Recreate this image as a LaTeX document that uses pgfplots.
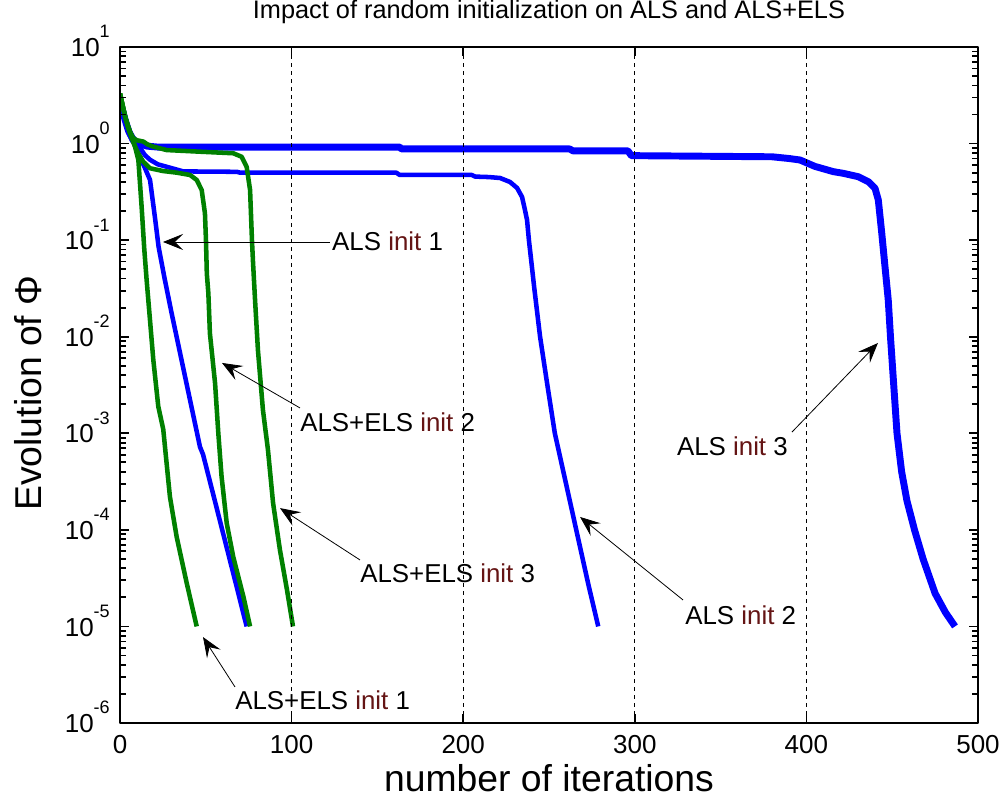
\documentclass[border=0pt]{standalone}
\usepackage{pgfplots}
\pgfplotsset{compat=1.18}
\usepackage{fontspec}
\setmainfont{Liberation Sans}
\usetikzlibrary{arrows.meta}
\definecolor{mblue}{RGB}{0,0,255}
\definecolor{mgreen}{RGB}{0,128,0}
\definecolor{initred}{RGB}{100,20,20}
\newcommand{\tenpow}[1]{10\raisebox{14pt}{\fontsize{13.5}{14}\selectfont #1}}
\newcommand{\annot}{\fontsize{19.4}{23}\selectfont}
\newcommand{\ini}{\textcolor{initred}{init}}
\begin{document}
\begin{tikzpicture}
\begin{axis}[
  scale only axis, width=643.5pt, height=507pt,
  xmin=0, xmax=500, ymin=1e-6, ymax=10, ymode=log, log basis y=10,
  xtick={0,100,200,300,400,500},
  ytick={1e-6,1e-5,1e-4,1e-3,1e-2,1e-1,1,10},
  yticklabels={\tenpow{-6},\tenpow{-5},\tenpow{-4},\tenpow{-3},\tenpow{-2},\tenpow{-1},\tenpow{0},\tenpow{1}},
  minor ytick={2e-6,3e-6,4e-6,5e-6,6e-6,7e-6,8e-6,9e-6,
               2e-5,3e-5,4e-5,5e-5,6e-5,7e-5,8e-5,9e-5,
               2e-4,3e-4,4e-4,5e-4,6e-4,7e-4,8e-4,9e-4,
               2e-3,3e-3,4e-3,5e-3,6e-3,7e-3,8e-3,9e-3,
               2e-2,3e-2,4e-2,5e-2,6e-2,7e-2,8e-2,9e-2,
               0.2,0.3,0.4,0.5,0.6,0.7,0.8,0.9,
               2,3,4,5,6,7,8,9},
  tick align=inside,
  major tick length=7pt, minor tick length=4.5pt,
  every tick/.style={black, line width=1.3pt},
  every minor tick/.style={black, line width=1.3pt},
  axis line style={black, line width=1.1pt},
  xmajorgrids, major x grid style={black, line width=0.9pt, dash pattern=on 3pt off 3pt},
  ticklabel style={font=\fontsize{19.5}{23}\selectfont},
  /pgf/number format/assume math mode=true,
  xticklabel style={anchor=north, inner sep=0pt, yshift=-9pt},
  yticklabel style={anchor=base east, inner sep=0pt, xshift=-7.5pt, yshift=-7.2pt},
  title={Impact of random initialization on ALS and ALS+ELS},
  title style={at={(0.5,1.0296)}, anchor=base, inner sep=0pt, font=\fontsize{19}{23}\selectfont},
  xlabel={number of iterations},
  xlabel style={at={(0.5,-0.1006)}, anchor=base, inner sep=0pt, font=\fontsize{28}{34}\selectfont},
  ylabel={Evolution of Φ},
  ylabel style={at={(-0.0913,0.488)}, rotate=0, anchor=base, inner sep=0pt, font=\fontsize{28}{34}\selectfont},
  line join=round,
  axis on top,
]
% ALS init 1
\addplot[mblue, line width=3.4pt] coordinates {
(0,2.7) (1.5,2.3) (3,1.85) (5,1.45) (7,1.15) (9,0.93) (11.7,0.72) (14.5,0.56) (17.5,0.42) (20.4,0.17) (22.5,0.085) (26,0.04) (30,0.0178) (38,0.0038) (46.6,7.24e-4) (48.4,6.03e-4) (55,2.09e-4) (62,6.76e-5) (68,2.57e-5) (73.8,1e-5)};
% ALS init 2
\addplot[mblue, line width=3.4pt] coordinates {
(0,2.7) (1.5,2.2) (3,1.7) (5,1.3) (7,1.07) (9,0.98) (11.7,0.90) (14.5,0.76) (17.5,0.68) (22,0.61) (27.2,0.575) (36.9,0.515) (68,0.51) (70,0.50) (161,0.50) (163,0.473) (205,0.473) (207,0.455) (215,0.45) (221.5,0.44) (227.3,0.40) (231.4,0.347) (234.3,0.28) (236,0.205) (237.2,0.162) (238.3,0.10) (241.5,0.031) (244.8,0.01) (249,0.0032) (253.4,0.001) (262,2.05e-4) (267.5,7.41e-5) (273,2.69e-5) (278.7,1e-5)};
% ALS init 3
\addplot[mblue, line width=5.2pt] coordinates {
(0,2.7) (1.5,2.2) (3,1.75) (5,1.35) (7,1.15) (9,1.05) (12,0.98) (16,0.94) (22,0.92) (163,0.92) (164,0.88) (262,0.88) (264,0.84) (296,0.84) (298,0.75) (380,0.73) (390,0.70) (396.3,0.676) (405,0.58) (415.7,0.512) (421.5,0.492) (430.2,0.454) (436.1,0.403) (440,0.344) (441.9,0.261) (443.9,0.119) (445.8,0.0532) (447.7,0.024) (449,0.01) (450.5,0.004) (452.8,0.001) (455.5,4e-4) (458.6,2e-4) (463,1e-4) (468,5e-5) (475,2.2e-5) (481,1.4e-5) (486.6,1e-5)};
% ALS+ELS init 1
\addplot[mgreen, line width=3.4pt] coordinates {
(0,3.3) (1.5,2.5) (3,1.9) (4.5,1.55) (6,1.3) (8,1.05) (10.7,0.676) (12.6,0.222) (14.1,0.083) (15.5,0.039) (16.5,0.024) (19.4,0.0058) (22.3,0.0019) (25.2,0.0011) (29.1,2.2e-4) (33,8.5e-5) (38.9,2.8e-5) (44.7,1e-5)};
% ALS+ELS init 2
\addplot[mgreen, line width=3.4pt] coordinates {
(0,3.3) (1.5,2.5) (3,1.9) (4.5,1.5) (6,1.25) (8,1.0) (10.5,0.8) (13.5,0.65) (17.5,0.555) (25,0.52) (33,0.50) (40.8,0.473) (44.7,0.42) (47.6,0.331) (49.5,0.19) (50.1,0.1) (50.6,0.045) (51.5,0.028) (52.4,0.0108) (55.4,0.0033) (57.3,0.001) (59.2,3.55e-4) (62.2,1.17e-4) (66,5.25e-5) (71.9,2.04e-5) (75.8,1e-5)};
% ALS+ELS init 3
\addplot[mgreen, line width=3.4pt] coordinates {
(0,3.3) (1.5,2.5) (3,1.9) (4.5,1.55) (6,1.3) (7.8,1.135) (10,1.08) (13.6,1.05) (16,0.98) (19.4,0.93) (27.2,0.857) (46.6,0.824) (66,0.794) (70.9,0.73) (73.8,0.575) (75.8,0.331) (76.9,0.1) (77.5,0.06) (78.7,0.024) (80.4,0.0072) (83.3,0.00174) (86.2,6.8e-4) (89.2,1.9e-4) (93.2,6.2e-5) (97.3,2.4e-5) (100.8,1e-5)};
% annotations
\tikzset{annarrow/.style={-{Stealth[length=15pt,width=12pt,inset=6pt]}, line width=0.6pt, black}}
\draw[annarrow] (axis cs:122.4,0.0957) -- (axis cs:25.06,0.0957);
\node[anchor=west, inner sep=0pt, font=\annot] at (axis cs:123.5,0.098) {ALS \ini{} 1};
\draw[annarrow] (axis cs:104.9,1.83e-3) -- (axis cs:59.44,5.35e-3);
\node[anchor=west, inner sep=0pt, font=\annot] at (axis cs:104.9,1.294e-3) {ALS+ELS \ini{} 2};
\draw[annarrow] (axis cs:139.86,4.88e-5) -- (axis cs:93.24,1.68e-4);
\node[anchor=west, inner sep=0pt, font=\annot] at (axis cs:139.86,3.57e-5) {ALS+ELS \ini{} 3};
\draw[annarrow] (axis cs:67.02,2.36e-6) -- (axis cs:48.37,7.76e-6);
\node[anchor=west, inner sep=0pt, font=\annot] at (axis cs:67.02,1.73e-6) {ALS+ELS \ini{} 1};
\draw[annarrow] (axis cs:328.1,1.88e-5) -- (axis cs:268.1,1.36e-4);
\node[anchor=west, inner sep=0pt, font=\annot] at (axis cs:329.3,1.31e-5) {ALS \ini{} 2};
\draw[annarrow] (axis cs:391.6,1.03e-3) -- (axis cs:441.7,8.61e-3);
\node[anchor=east, inner sep=0pt, font=\annot] at (axis cs:389.3,7.38e-4) {ALS \ini{} 3};
\coordinate (BL) at (rel axis cs:-0.13986,-0.11538);
\coordinate (TR) at (rel axis cs:1.02914,1.06953);
\end{axis}
\pgfresetboundingbox
\path[use as bounding box] (BL) rectangle (TR);
\end{tikzpicture}
\end{document}
